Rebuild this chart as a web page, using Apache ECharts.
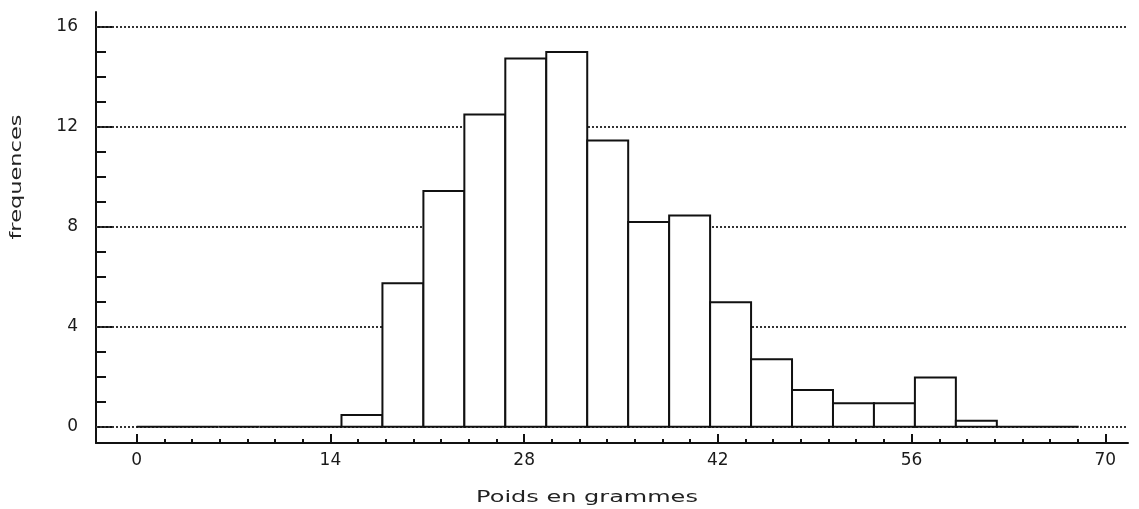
<!DOCTYPE html>
<html>
<head>
<meta charset="utf-8">
<script src="https://cdn.jsdelivr.net/npm/echarts@6/dist/echarts.min.js"></script>
<style>html,body{margin:0;padding:0;background:#fff}#c{width:1139px;height:509px}</style>
</head>
<body>
<div id="c"></div>
<script>
// Histogram bin edges (grams) and frequencies
const binEdges = [0, 2.96, 5.92, 8.88, 11.84, 14.8, 17.76, 20.72, 23.68, 26.64, 29.6, 32.56, 35.52, 38.48, 41.44, 44.4, 47.36, 50.32, 53.28, 56.24, 59.2, 62.16, 65.12, 68.08];
const frequencies = [0, 0, 0, 0, 0, 0.47, 5.74, 9.44, 12.5, 14.74, 15.0, 11.46, 8.2, 8.46, 4.98, 2.7, 1.47, 0.94, 0.94, 1.97, 0.24, 0, 0];
const xMajorTicks = [0, 14, 28, 42, 56, 70];
const xMinorTicks = [2, 4, 6, 8, 10, 12, 16, 18, 20, 22, 24, 26, 30, 32, 34, 36, 38, 40, 44, 46, 48, 50, 52, 54, 58, 60, 62, 64, 66, 68];
const yMajorTicks = [0, 4, 8, 12, 16];
const yMinorTicks = [1, 2, 3, 5, 6, 7, 9, 10, 11, 13, 14, 15];
const xTitle = 'Poids en grammes';
const yTitle = 'frequences';

const bins = frequencies.map((f, i) => [binEdges[i], binEdges[i + 1], f]);

const FONT = 'DejaVu Sans';
const XMIN = -2.94, XMAX = 71.64, YMIN = -0.65, YMAX = 16.6;

const chart = echarts.init(document.getElementById('c'), null, {renderer: 'canvas'});
const labelStyle = {color: '#1a1a1a', fontFamily: FONT, fontSize: 17};
const tickLine = {color: '#111', width: 2};

chart.setOption({
  animation: false,
  backgroundColor: '#fff',
  grid: {left: 96, right: 11, top: 12, bottom: 66, containLabel: false},
  xAxis: [
    {
      type: 'value', min: XMIN, max: XMAX, position: 'bottom',
      axisLine: {show: true, onZero: false, lineStyle: {color: '#111', width: 2}},
      axisTick: {show: true, inside: true, length: 9, customValues: xMajorTicks, lineStyle: tickLine},
      axisLabel: Object.assign({show: true, margin: 9, customValues: xMajorTicks}, labelStyle),
      splitLine: {show: false}
    },
    {
      type: 'value', min: XMIN, max: XMAX, position: 'bottom',
      axisLine: {show: false, onZero: false},
      axisTick: {show: true, inside: true, length: 4, customValues: xMinorTicks, lineStyle: tickLine},
      axisLabel: {show: false},
      splitLine: {show: false}
    }
  ],
  yAxis: [
    {
      type: 'value', min: YMIN, max: YMAX, position: 'left',
      axisLine: {show: true, onZero: false, lineStyle: {color: '#111', width: 2}},
      axisTick: {show: true, inside: true, length: 18, customValues: yMajorTicks, lineStyle: tickLine},
      axisLabel: Object.assign({show: true, margin: 18, customValues: yMajorTicks}, labelStyle),
      splitLine: {show: false}
    },
    {
      type: 'value', min: YMIN, max: YMAX, position: 'left',
      axisLine: {show: false, onZero: false},
      axisTick: {show: true, inside: true, length: 10, customValues: yMinorTicks, lineStyle: tickLine},
      axisLabel: {show: false},
      splitLine: {show: false}
    }
  ],
  series: [
    {
      type: 'custom',
      xAxisIndex: 0, yAxisIndex: 0,
      clip: false,
      data: bins,
      encode: {x: [0, 1], y: 2},
      renderItem: function (params, api) {
        const p0 = api.coord([api.value(0), 0]);
        const p1 = api.coord([api.value(1), api.value(2)]);
        return {
          type: 'rect',
          shape: {x: p0[0], y: p1[1], width: p1[0] - p0[0], height: p0[1] - p1[1]},
          style: {fill: '#fff', stroke: '#111', lineWidth: 2}
        };
      },
      markLine: {
        silent: true,
        symbol: 'none',
        z: 1,
        label: {show: false},
        lineStyle: {color: '#333', width: 2, type: [2, 2]},
        data: yMajorTicks.map(v => ({yAxis: v}))
      },
      z: 3
    }
  ],
  graphic: [
    {
      type: 'text',
      x: 587, y: 498,
      scaleX: 1.5,
      style: {text: xTitle, font: '16px "' + FONT + '"', fill: '#222', align: 'center', verticalAlign: 'middle'}
    },
    {
      type: 'text',
      x: 17, y: 177,
      rotation: Math.PI / 2,
      scaleX: 1.5,
      style: {text: yTitle, font: '15px "' + FONT + '"', fill: '#222', align: 'center', verticalAlign: 'middle'}
    }
  ]
});
</script>
</body>
</html>
